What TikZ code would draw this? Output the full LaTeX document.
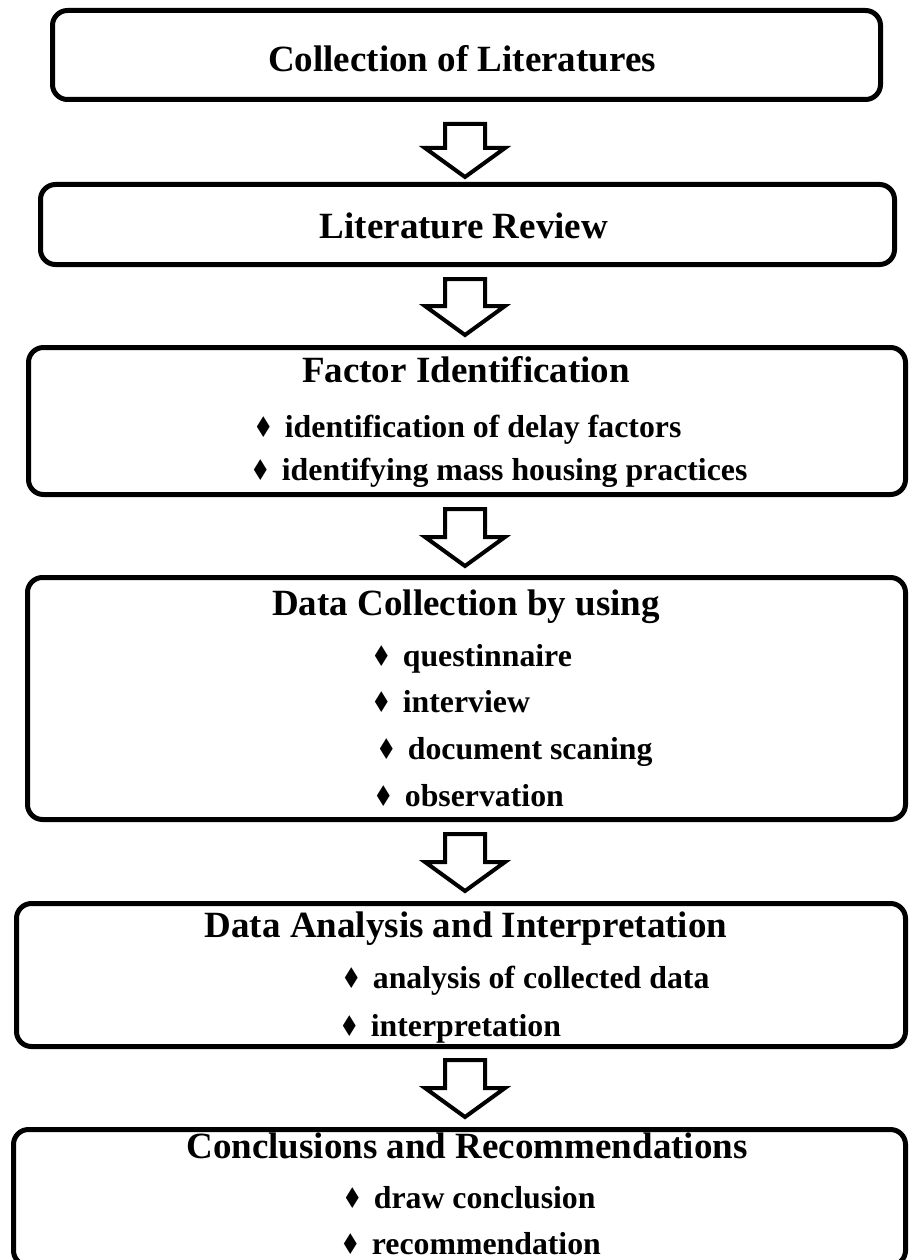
\documentclass[tikz,border=0pt]{standalone}
\usepackage{fontspec}
\setmainfont{Liberation Serif}
\newfontfamily\symfont{DejaVu Sans}
\usetikzlibrary{calc}

% stage boxes, headings, bullet items and hollow block arrows
\tikzset{
  stagebox/.style={draw=black, line width=5pt, rounded corners=15pt,
    inner sep=0pt, outer sep=0pt, fill=none},
  heading/.style={anchor=base, inner sep=0pt,
    font=\fontsize{37}{37}\selectfont\bfseries},
  item/.style={anchor=base west, inner sep=0pt,
    font=\fontsize{31.8}{32}\selectfont\bfseries},
  arrowline/.style={draw=black, line width=4pt, line join=miter, fill=white}
}
\newcommand\bul{{\symfont\scalebox{0.72}[0.9]{♦}}\hspace{0.35em}}
% hollow down arrow from a top coordinate to a tip coordinate
\newcommand\blockarrow[2]{%
  \draw[arrowline] ($(#1)+(-20,0)$) -- ($(#1)+(20,0)$) -- ($(#2)+(20,-29)$)
    -- ($(#2)+(40,-29)$) -- (#2) -- ($(#2)+(-40,-29)$) -- ($(#2)+(-20,-29)$) -- cycle;}

\begin{document}
\begin{tikzpicture}[x=1pt,y=-1pt]
\useasboundingbox (0,0) rectangle (911,1260);

% boxes (centre, width, height of the stroke centre line)
\node[stagebox, minimum width=828pt, minimum height=89pt] (b1) at (466.5,55) {};
\node[stagebox, minimum width=854pt, minimum height=80pt] (b2) at (467.5,224.5) {};
\node[stagebox, minimum width=877pt, minimum height=147pt] (b3) at (467,421) {};
\node[stagebox, minimum width=878pt, minimum height=242pt] (b4) at (466.5,698.5) {};
\node[stagebox, minimum width=889pt, minimum height=143pt] (b5) at (461,975) {};
\node[stagebox, minimum width=892pt, minimum height=136pt] (b6) at (459.5,1197.5) {};

% texts
\node[heading] (t1) at (462,72) {Collection of Literatures};
\node[heading] (t2) at (464,238) {Literature Review};

\node[heading] (t3) at (466,382) {Factor Identification};
\node[item] (t3a) at (253,437) {\bul identification of delay factors};
\node[item] (t3b) at (250,480) {\bul identifying mass housing practices};

\node[heading] (t4) at (466,615) {Data Collection by using};
\node[item] (t4a) at (371,666) {\bul questinnaire};
\node[item] (t4b) at (371,712) {\bul interview};
\node[item] (t4c) at (376,759) {\bul document scaning};
\node[item] (t4d) at (373,806) {\bul observation};

\node[heading] (t5) at (466,937) {Data Analysis and Interpretation};
\node[item] (t5a) at (341,988) {\bul analysis of collected data};
\node[item] (t5b) at (339,1036) {\bul interpretation};

\node[heading] (t6) at (467,1158) {Conclusions and Recommendations};
\node[item] (t6a) at (342,1208) {\bul draw conclusion};
\node[item] (t6b) at (340,1254) {\bul recommendation};

% arrows between the stages
\coordinate (a1t) at (465,124);  \coordinate (a1h) at (465,177);
\coordinate (a2t) at (465,279);  \coordinate (a2h) at (465,335);
\coordinate (a3t) at (465,509);  \coordinate (a3h) at (465,566);
\coordinate (a4t) at (465,834);  \coordinate (a4h) at (465,891);
\coordinate (a5t) at (465,1060); \coordinate (a5h) at (465,1117);
\blockarrow{a1t}{a1h}
\blockarrow{a2t}{a2h}
\blockarrow{a3t}{a3h}
\blockarrow{a4t}{a4h}
\blockarrow{a5t}{a5h}
\end{tikzpicture}
\end{document}
